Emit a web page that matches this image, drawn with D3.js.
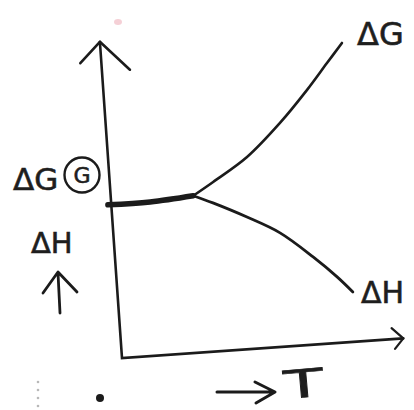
<!DOCTYPE html>
<html>
<head>
<meta charset="utf-8">
<script src="https://cdn.jsdelivr.net/npm/d3@7"></script>
<style>
  html, body { margin: 0; padding: 0; background: #ffffff; }
  svg { display: block; }
  text { font-family: "DejaVu Sans", sans-serif; fill: #1e1e1e; stroke: #1e1e1e; stroke-width: 0.6; }
</style>
</head>
<body>
<svg id="chart" width="414" height="410"></svg>
<script>
// Shared low-temperature segment where ΔG and ΔH coincide
const tFlat = [-0.12, 1.38, 2.92];
const flatValues = [4.85, 4.85, 4.95];

// ΔG branch rising with temperature
const tG = [2.92, 3.66, 4.92, 6.17, 7.21, 7.98, 8.56];
const gValues = [4.95, 5.34, 6.05, 7.05, 8.03, 8.83, 9.43];

// ΔH branch falling with temperature
const tH = [2.92, 3.60, 4.77, 5.90, 7.01, 7.81, 8.33];
const hValues = [4.95, 4.68, 4.16, 3.59, 2.76, 2.08, 1.57];

// Text labels
const curveLabels = ["ΔG", "ΔH"];
const yLabels = ["ΔG", "G", "ΔH"];
const xLabel = "T";

const ink = "#1b1b1b";
const svg = d3.select("#chart");

// Plot frame: origin at lower-left corner, sketched with a slight tilt
const x = d3.scaleLinear().domain([0, 10]).range([0, 282]);
const y = d3.scaleLinear().domain([0, 10]).range([0, -317]);

const plot = svg.append("g").attr("transform", "translate(122,358) rotate(-4)");

const line = d3.line()
  .x(d => x(d[0]))
  .y(d => y(d[1]))
  .curve(d3.curveCatmullRom.alpha(0.5));

// Axes with open arrowheads
const axisPath = d3.path();
axisPath.moveTo(x(0), y(10));
axisPath.lineTo(x(0), y(0));
axisPath.lineTo(x(10), y(0));
plot.append("path")
  .attr("d", axisPath.toString())
  .attr("fill", "none").attr("stroke", ink)
  .attr("stroke-width", 2.6).attr("stroke-linejoin", "miter")
  .attr("stroke-linecap", "round");

const yTip = [x(0), y(10)];
plot.append("path")
  .attr("d", `M${yTip[0] - 21},${yTip[1] + 20} L${yTip[0]},${yTip[1]} L${yTip[0] + 28},${yTip[1] + 30}`)
  .attr("fill", "none").attr("stroke", ink).attr("stroke-width", 2.6)
  .attr("stroke-linecap", "round").attr("stroke-linejoin", "round");

const xTip = [x(10), y(0)];
plot.append("path")
  .attr("d", `M${xTip[0] - 11},${xTip[1] - 11} L${xTip[0]},${xTip[1]} L${xTip[0] - 9},${xTip[1] + 10}`)
  .attr("fill", "none").attr("stroke", ink).attr("stroke-width", 2.2)
  .attr("stroke-linecap", "round").attr("stroke-linejoin", "round");

// Curves
const flatPts = d3.zip(tFlat, flatValues);
plot.append("path")
  .attr("d", line(flatPts))
  .attr("fill", "none").attr("stroke", ink)
  .attr("stroke-width", 5.5).attr("stroke-linecap", "round");

plot.append("path")
  .attr("d", line(d3.zip(tG, gValues)))
  .attr("fill", "none").attr("stroke", ink)
  .attr("stroke-width", 2.6).attr("stroke-linecap", "round");

plot.append("path")
  .attr("d", line(d3.zip(tH, hValues)))
  .attr("fill", "none").attr("stroke", ink)
  .attr("stroke-width", 2.8).attr("stroke-linecap", "round");

// Curve end labels
svg.append("text").attr("x", 357).attr("y", 45)
  .attr("font-size", 32).text(curveLabels[0]);
svg.append("text").attr("x", 361).attr("y", 303)
  .attr("font-size", 30).text(curveLabels[1]);

// Left-hand quantity labels
svg.append("text").attr("x", 13).attr("y", 190)
  .attr("font-size", 31).text(yLabels[0]);
svg.append("circle").attr("cx", 82).attr("cy", 175).attr("r", 17.5)
  .attr("fill", "none").attr("stroke", ink).attr("stroke-width", 2.4);
svg.append("text").attr("x", 82).attr("y", 183)
  .attr("text-anchor", "middle").attr("font-size", 22).text(yLabels[1]);
svg.append("text").attr("x", 31).attr("y", 253)
  .attr("font-size", 29).text(yLabels[2]);

// Upward arrow under the ΔH label
svg.append("path")
  .attr("d", "M60,313 L58,273 M43,293 L58,272 L77,292")
  .attr("fill", "none").attr("stroke", ink).attr("stroke-width", 2.8)
  .attr("stroke-linecap", "round").attr("stroke-linejoin", "round");

// Temperature label with arrow
svg.append("path")
  .attr("d", "M217,392 L274,392 M255,382 L275,392 L256,403")
  .attr("fill", "none").attr("stroke", ink).attr("stroke-width", 3)
  .attr("stroke-linecap", "round").attr("stroke-linejoin", "round");
svg.append("text")
  .attr("transform", "translate(285,399) rotate(-5) scale(1.75,1.05)")
  .attr("font-size", 37).attr("stroke-width", 1.1).text(xLabel);

// Stray pen marks
svg.append("circle").attr("cx", 100).attr("cy", 398).attr("r", 4).attr("fill", ink);
[382, 390, 398, 406].forEach(cy => {
  svg.append("circle").attr("cx", 38).attr("cy", cy).attr("r", 1.3).attr("fill", "#b8b8b8");
});
svg.append("ellipse").attr("cx", 118).attr("cy", 22).attr("rx", 4).attr("ry", 3)
  .attr("fill", "#f2c4cc").attr("opacity", 0.8);
</script>
</body>
</html>
